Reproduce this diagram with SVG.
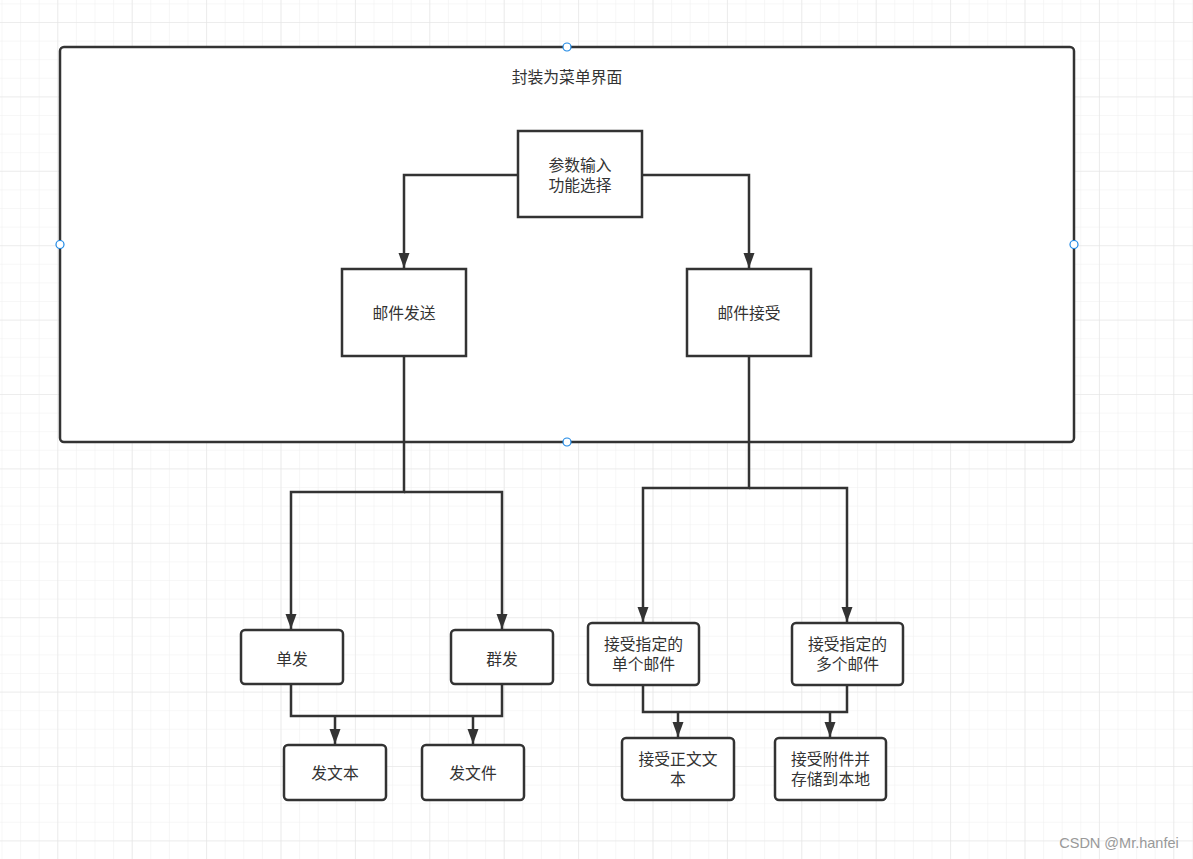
<svg xmlns="http://www.w3.org/2000/svg" width="1193" height="859" viewBox="0 0 1193 859">
<defs>
<pattern id="minor" patternUnits="userSpaceOnUse" x="57.3" y="22" width="18.6" height="18.6">
<path d="M0,0 V18.6 M0,0 H18.6" fill="none" stroke="#f0f0f0" stroke-width="1.2"/>
</pattern>
<pattern id="major" patternUnits="userSpaceOnUse" x="57.3" y="22" width="74.4" height="74.4">
<path d="M0,0 V74.4 M0,0 H74.4" fill="none" stroke="#e4e4e4" stroke-width="1.2"/>
</pattern>
<marker id="arr" markerUnits="userSpaceOnUse" markerWidth="16" markerHeight="12" refX="15" refY="5.5" orient="auto">
<path d="M0,0 L15,5.5 L0,11 Z" fill="#333"/>
</marker>
<style>
.box{fill:#fff;stroke:#333;stroke-width:2.5}
.t{font-family:"Liberation Sans","Noto Sans CJK SC",sans-serif;font-size:15.8px;fill:#333;text-anchor:middle;dominant-baseline:central}
.c{fill:none;stroke:#333;stroke-width:2.5}
.h{fill:#fff;stroke:#1e88e5;stroke-width:1.2}
</style>
</defs>
<rect width="1193" height="859" fill="#fff"/>
<rect width="1193" height="859" fill="url(#minor)"/>
<rect width="1193" height="859" fill="url(#major)"/>

<g id="frame">
<rect class="box" x="60" y="47" width="1014" height="395" rx="4"/>
<text class="t" x="567" y="77.5">封装为菜单界面</text>
</g>

<g id="connectors">
<path class="c" d="M518,175 H404 V268" marker-end="url(#arr)"/>
<path class="c" d="M642,175 H749 V268" marker-end="url(#arr)"/>
<path class="c" d="M404,356 V492 H291 V629" marker-end="url(#arr)"/>
<path class="c" d="M404,492 H502 V629" marker-end="url(#arr)"/>
<path class="c" d="M749,356 V488 H643 V622" marker-end="url(#arr)"/>
<path class="c" d="M749,488 H847 V622" marker-end="url(#arr)"/>
<path class="c" d="M291,684 V716 H502 V684"/>
<path class="c" d="M335,716 V744" marker-end="url(#arr)"/>
<path class="c" d="M473,716 V744" marker-end="url(#arr)"/>
<path class="c" d="M643,685 V712 H847 V685"/>
<path class="c" d="M678,712 V737" marker-end="url(#arr)"/>
<path class="c" d="M830,712 V737" marker-end="url(#arr)"/>
</g>

<g id="handles">
<circle class="h" cx="567" cy="47" r="4"/>
<circle class="h" cx="60" cy="244.5" r="4"/>
<circle class="h" cx="1074" cy="244.5" r="4"/>
<circle class="h" cx="567" cy="442" r="4"/>
</g>

<g id="n-input">
<rect class="box" x="518" y="131" width="124" height="86"/>
<text class="t" x="580" y="165.5">参数输入</text>
<text class="t" x="580" y="185.5">功能选择</text>
</g>
<g id="n-send">
<rect class="box" x="342" y="269" width="124" height="87"/>
<text class="t" x="404" y="313.5">邮件发送</text>
</g>
<g id="n-recv">
<rect class="box" x="687" y="269" width="124" height="87"/>
<text class="t" x="749" y="313.5">邮件接受</text>
</g>
<g id="n-single">
<rect class="box" x="241" y="630" width="102" height="54" rx="4"/>
<text class="t" x="292" y="659.5">单发</text>
</g>
<g id="n-group">
<rect class="box" x="451" y="630" width="102" height="54" rx="4"/>
<text class="t" x="502" y="659.5">群发</text>
</g>
<g id="n-text">
<rect class="box" x="284" y="745" width="102" height="55" rx="4"/>
<text class="t" x="335" y="773.5">发文本</text>
</g>
<g id="n-file">
<rect class="box" x="422" y="745" width="102" height="55" rx="4"/>
<text class="t" x="473" y="773.5">发文件</text>
</g>
<g id="n-recv-single">
<rect class="box" x="588" y="623" width="111" height="62" rx="4"/>
<text class="t" x="643.5" y="644.5">接受指定的</text>
<text class="t" x="643.5" y="664.5">单个邮件</text>
</g>
<g id="n-recv-multi">
<rect class="box" x="792" y="623" width="111" height="62" rx="4"/>
<text class="t" x="847.5" y="644.5">接受指定的</text>
<text class="t" x="847.5" y="664.5">多个邮件</text>
</g>
<g id="n-body">
<rect class="box" x="622" y="738" width="112" height="62" rx="4"/>
<text class="t" x="678" y="759.5">接受正文文</text>
<text class="t" x="678" y="779.5">本</text>
</g>
<g id="n-attach">
<rect class="box" x="775" y="738" width="111" height="62" rx="4"/>
<text class="t" x="830.5" y="759.5">接受附件并</text>
<text class="t" x="830.5" y="779.5">存储到本地</text>
</g>

<text x="1119" y="843" font-family="'Liberation Sans',Arial,sans-serif" font-size="14.5" fill="#999" text-anchor="middle" dominant-baseline="central">CSDN @Mr.hanfei</text>
</svg>
